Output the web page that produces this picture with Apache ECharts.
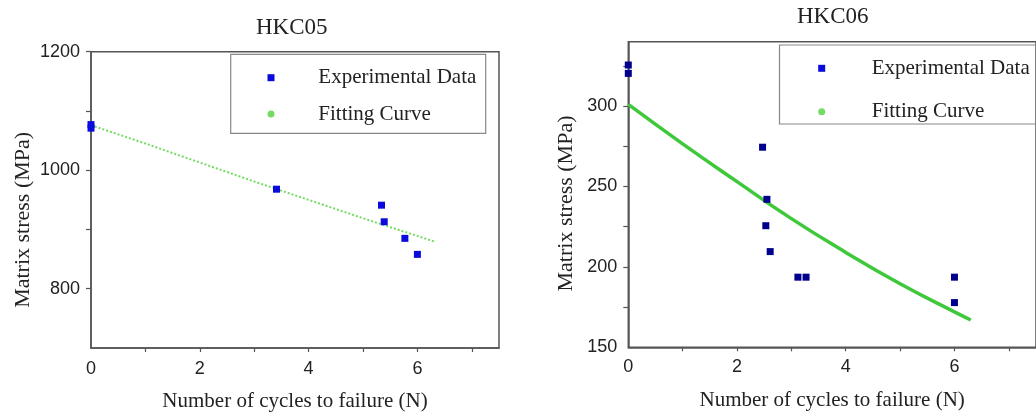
<!DOCTYPE html>
<html>
<head>
<meta charset="utf-8">
<script src="https://cdn.jsdelivr.net/npm/echarts@6/dist/echarts.min.js"></script>
<style>html,body{margin:0;padding:0;background:#fff}#c{width:1036px;height:417px}</style>
</head>
<body>
<div id="c"></div>
<script>
// ---- data ----
const titles = ['HKC05', 'HKC06'];
const seriesNames = ['Experimental Data', 'Fitting Curve'];
const xAxisName = 'Number of cycles to failure (N)';
const yAxisName = 'Matrix stress (MPa)';

const expX05 = [0, 0, 3.41, 5.34, 5.39, 5.77, 6.0];
const expY05 = [1077, 1071, 968, 941, 913, 885, 858];
const fitX05 = [0, 1, 2, 3, 4, 5, 6, 6.33];
const fitY05 = [1076, 1045, 1013, 981, 950, 919, 889, 879];

const expX06 = [0, 0, 2.47, 2.55, 2.53, 2.61, 3.12, 3.27, 6.0, 6.0];
const expY06 = [325.5, 320.3, 274.4, 242.0, 225.6, 209.5, 193.6, 193.6, 193.6, 177.8];
const fitX06 = [0, 1, 2, 3, 4, 5, 6, 6.3];
const fitY06 = [301, 276.5, 253, 230, 209, 189.5, 172, 167];

const xTickLabels = [0, 2, 4, 6];
const yTickLabels05 = [800, 1000, 1200];
const yTickLabels06 = [150, 200, 250, 300];

const pairs = (xs, ys) => xs.map((x, i) => [x, ys[i]]);

const serif = 'Liberation Serif';
const sans = 'Liberation Sans';
const axisCol = '#555';

function xAxisCfg(gridIndex, labelMargin) {
  return {
    type: 'value', gridIndex, min: 0, max: 7.5, interval: 1,
    name: xAxisName, nameLocation: 'middle', nameGap: 43,
    nameTextStyle: {fontFamily: serif, fontSize: 21, color: '#222'},
    axisLine: {show: true, onZero: false, lineStyle: {color: axisCol, width: 1.5}},
    axisTick: {show: true, inside: false, length: 4, customValues: [1, 2, 3, 4, 5, 6, 7], lineStyle: {color: axisCol, width: 1.2}},
    axisLabel: {customValues: xTickLabels, margin: labelMargin, fontFamily: sans, fontSize: 18, color: '#222',
                formatter: v => String(v)},
    splitLine: {show: false}
  };
}
function yAxisCfg(gridIndex, min, max, interval, labels, ticks, gap, pad) {
  return {
    type: 'value', gridIndex, min, max, interval,
    name: yAxisName, nameLocation: 'middle', nameGap: gap,
    nameTextStyle: {fontFamily: serif, fontSize: 22, color: '#222', padding: [0, pad, 0, 0]},
    axisLine: {show: true, onZero: false, lineStyle: {color: axisCol, width: 1.5}},
    axisTick: {show: true, inside: false, length: 5, customValues: ticks, lineStyle: {color: axisCol, width: 1.2}},
    axisLabel: {customValues: labels, margin: 11, fontFamily: sans, fontSize: 18, color: '#222',
                formatter: v => String(v)},
    splitLine: {show: false}
  };
}
function legendCfg(left, top, gap, textPad) {
  return {
    orient: 'vertical', left, top, itemGap: gap, padding: 0,
    itemWidth: 7, itemHeight: 7,
    data: [{name: seriesNames[0], icon: 'rect'}, {name: seriesNames[1], icon: 'circle'}],
    textStyle: {fontFamily: serif, fontSize: 21, lineHeight: 21, color: '#222', padding: [0, 0, 0, textPad]},
    selectedMode: false
  };
}

const chart = echarts.init(document.getElementById('c'), null, {renderer: 'canvas'});
chart.setOption({
  animation: false,
  backgroundColor: '#fff',
  title: [
    {text: titles[0], left: 291.7, top: 16, textAlign: 'center', padding: 0,
     textStyle: {fontFamily: serif, fontSize: 23, fontWeight: 'normal', color: '#222'}},
    {text: titles[1], left: 832.7, top: 5, textAlign: 'center', padding: 0,
     textStyle: {fontFamily: serif, fontSize: 23, fontWeight: 'normal', color: '#222'}}
  ],
  grid: [
    {left: 91, top: 51.7, width: 408, height: 297.3, show: true, borderColor: axisCol, borderWidth: 1.5, backgroundColor: 'transparent'},
    {left: 628.3, top: 41.7, width: 415, height: 305.6, show: true, borderColor: axisCol, borderWidth: 1.5, backgroundColor: 'transparent'}
  ],
  xAxis: [xAxisCfg(0, 12), xAxisCfg(1, 11)],
  yAxis: [
    yAxisCfg(0, 700, 1200, 100, yTickLabels05, [800, 900, 1000, 1100, 1200], 57, 40),
    yAxisCfg(1, 150, 340, 25, yTickLabels06, [175, 200, 225, 250, 275, 300, 325], 51, 18)
  ],
  graphic: [
    {type: 'rect', shape: {x: 230.7, y: 54.3, width: 255, height: 79}, style: {fill: 'none', stroke: '#888', lineWidth: 1.2}, z: 5},
    {type: 'rect', shape: {x: 779.5, y: 45, width: 300, height: 79}, style: {fill: 'none', stroke: '#888', lineWidth: 1.2}, z: 5}
  ],
  legend: [
    legendCfg(267.5, 67.2, 15.3, 38.8),
    legendCfg(818.2, 57.8, 22.4, 41.5)
  ],
  series: [
    {name: seriesNames[1], type: 'line', xAxisIndex: 0, yAxisIndex: 0, data: pairs(fitX05, fitY05),
     showSymbol: false, color: '#74dc62', lineStyle: {color: '#74dc62', width: 2, type: 'dotted'}, z: 2},
    {name: seriesNames[0], type: 'scatter', xAxisIndex: 0, yAxisIndex: 0, data: pairs(expX05, expY05),
     symbol: 'rect', symbolSize: 7, color: '#0a0adc', itemStyle: {opacity: 1}, clip: false, z: 3},
    {name: seriesNames[1], type: 'line', xAxisIndex: 1, yAxisIndex: 1, data: pairs(fitX06, fitY06),
     smooth: 0.5, showSymbol: false, color: '#3ec83a', lineStyle: {color: '#3ec83a', width: 3.5}, z: 2},
    {name: seriesNames[0], type: 'scatter', xAxisIndex: 1, yAxisIndex: 1, data: pairs(expX06, expY06),
     symbol: 'rect', symbolSize: 7, color: '#00008c', itemStyle: {opacity: 1}, clip: false, z: 3}
  ]
});
</script>
</body>
</html>
